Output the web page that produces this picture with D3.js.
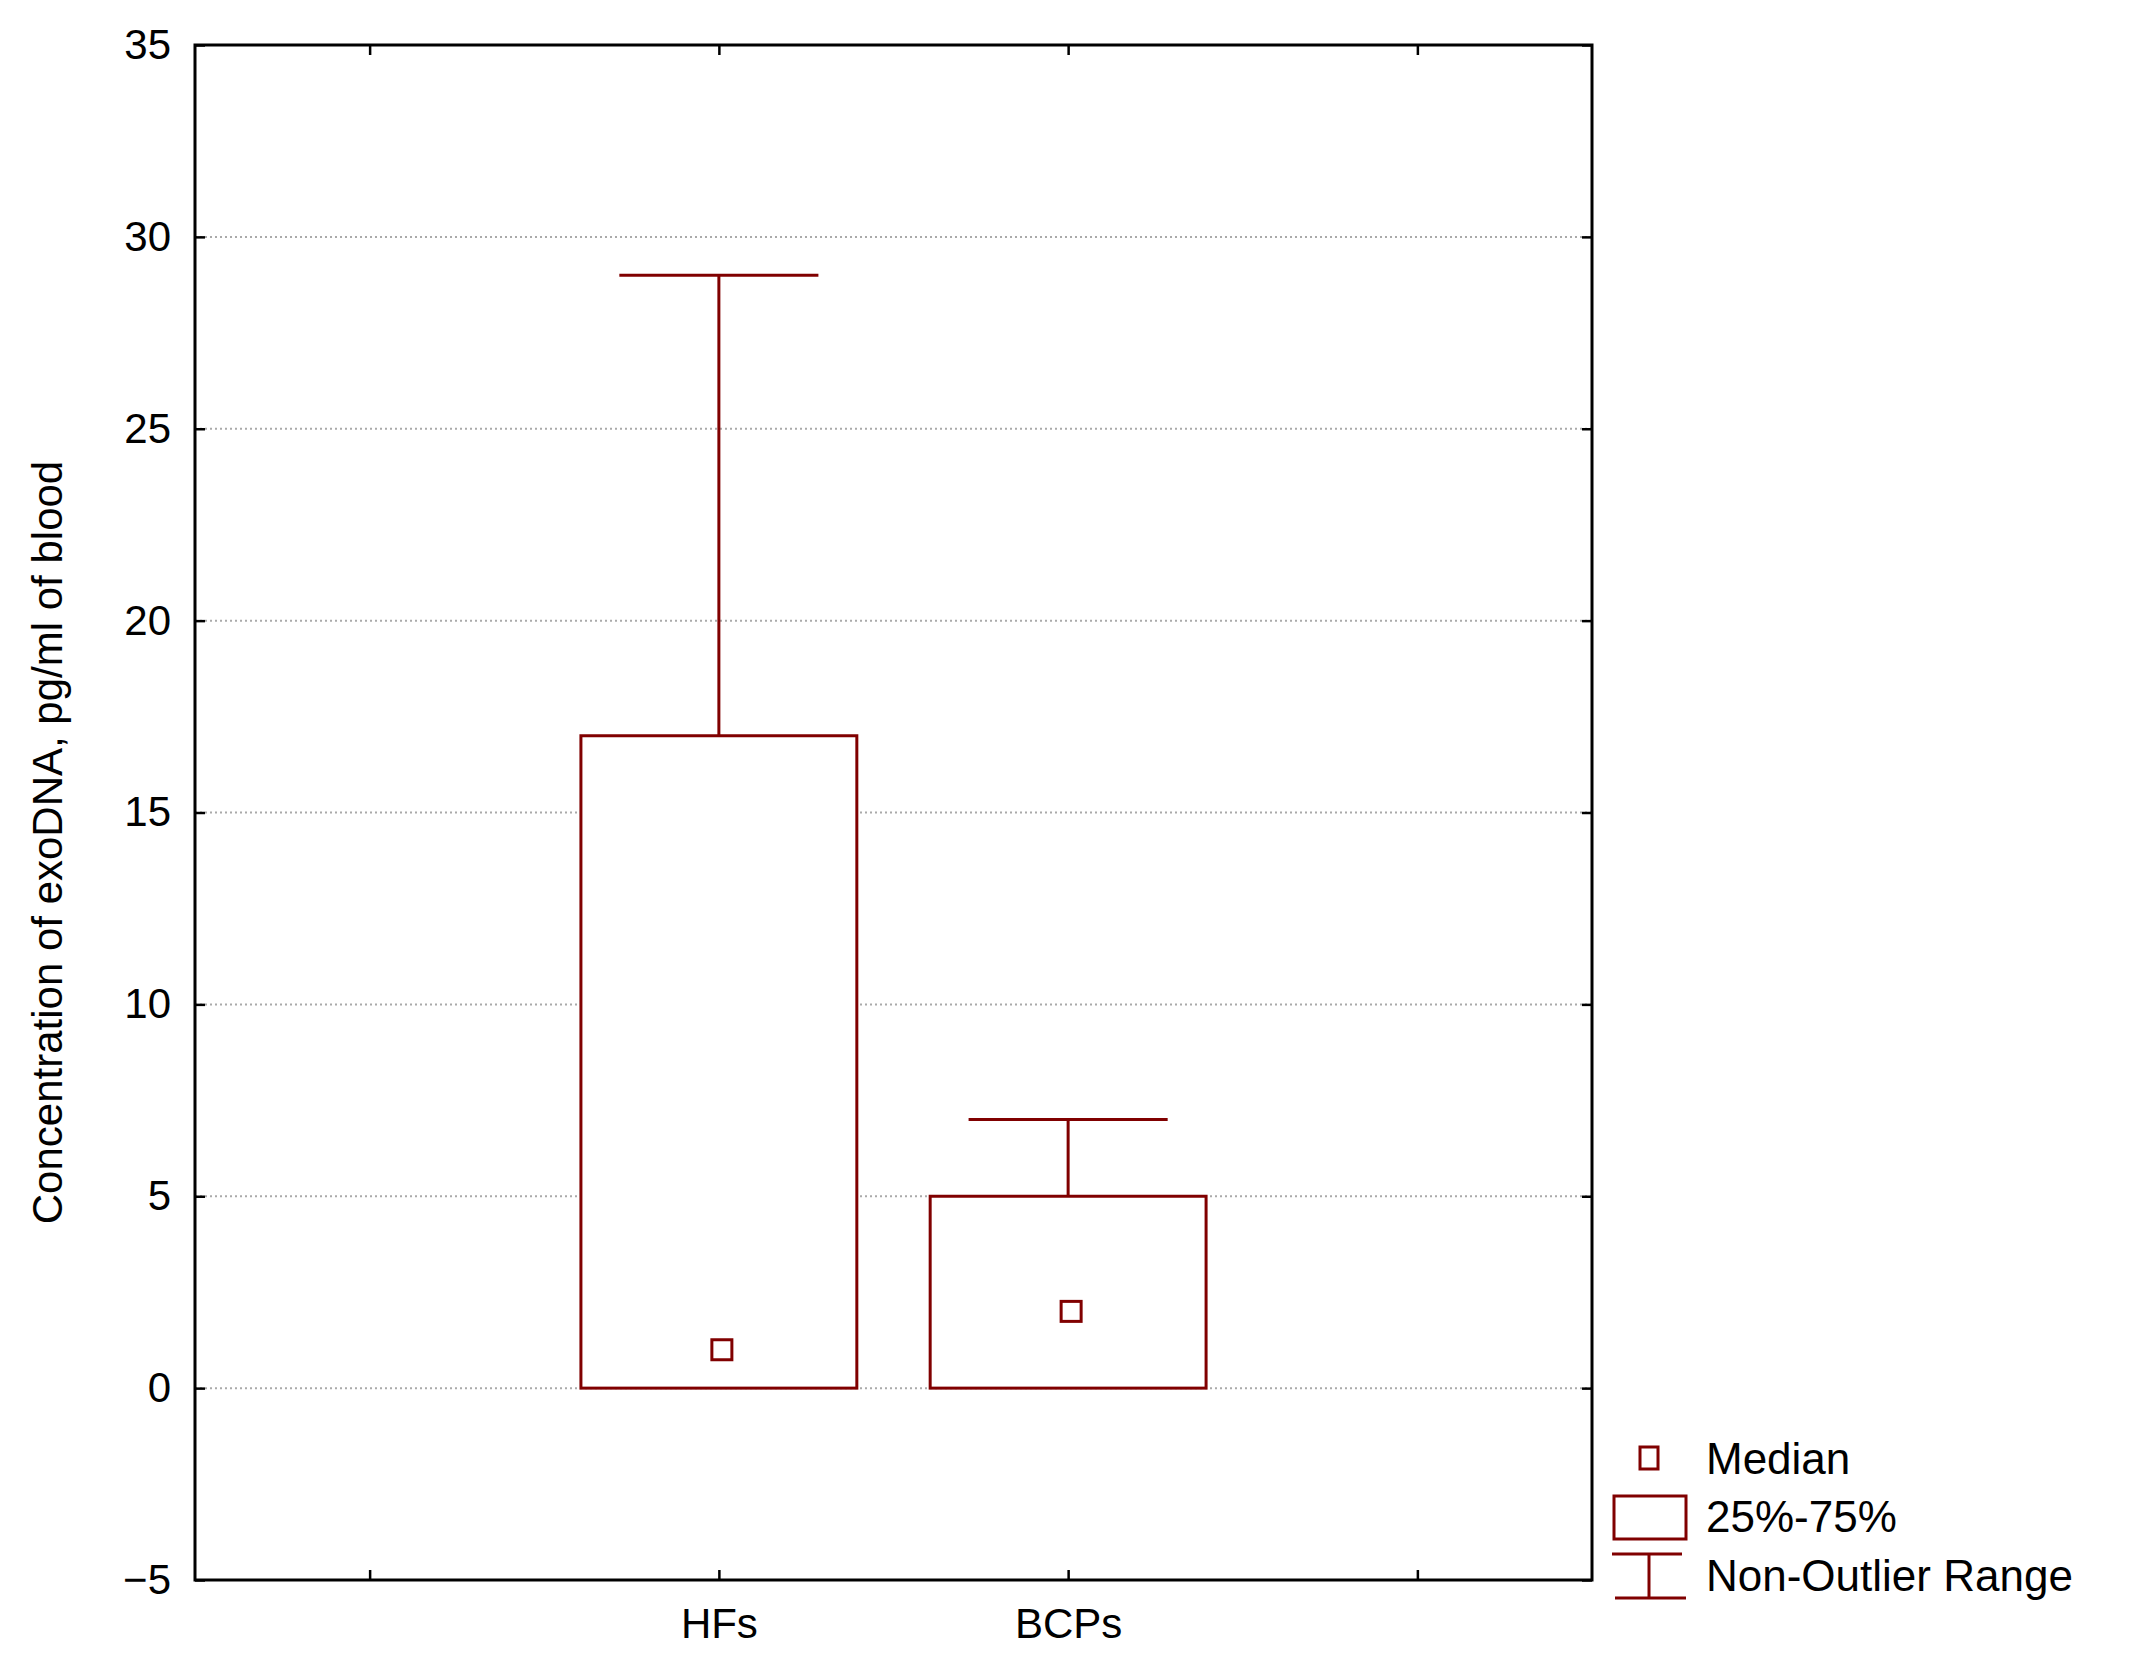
<!DOCTYPE html>
<html><head><meta charset="utf-8">
<script src="https://cdn.jsdelivr.net/npm/d3@7"></script>
<style>body{margin:0;background:#fff}text{font-family:"Liberation Sans",Arial,sans-serif;fill:#000}</style>
</head><body><svg id="c" width="2135" height="1673"></svg>
<script>
const slots = ["", "HFs", "BCPs", " "];
const categories = ["HFs", "BCPs"];
const q1 = [0, 0];
const q3 = [17, 5];
const medians = [1, 2];
const whiskerMin = [0, 0];
const whiskerMax = [29, 7];
const yTicks = [-5, 0, 5, 10, 15, 20, 25, 30, 35];
const legendLabels = ["Median", "25%-75%", "Non-Outlier Range"];

const col = "#800000";
const L = 195, R = 1592, T = 45, B = 1580;
const svg = d3.select("#c");
const x = d3.scalePoint().domain(slots).range([L, R]).padding(0.5);
const y = d3.scaleLinear().domain([-5, 35]).range([B, T]);
const step = x.step();

// grid
svg.append("g").selectAll("line").data(yTicks.filter(v => v > -5 && v < 35)).join("line")
  .attr("x1", L).attr("x2", R).attr("y1", d => y(d)).attr("y2", d => y(d))
  .attr("stroke", "#aaa").attr("stroke-width", 2).attr("stroke-dasharray", "2,3");

// axes
svg.append("g").attr("transform", `translate(${L},0)`)
  .call(d3.axisLeft(y).tickValues(yTicks).tickSize(-10).tickPadding(24))
  .call(g => g.select(".domain").remove())
  .call(g => g.selectAll("line").attr("stroke-width", 2.5))
  .call(g => g.selectAll("text").attr("font-size", 42));
svg.append("g").attr("transform", `translate(${R},0)`)
  .call(d3.axisRight(y).tickValues(yTicks).tickSize(-10).tickFormat(""))
  .call(g => g.select(".domain").remove())
  .call(g => g.selectAll("line").attr("stroke-width", 2.5));
svg.append("g").attr("transform", `translate(0,${B})`)
  .call(d3.axisBottom(x).tickSize(-10).tickPadding(28))
  .call(g => g.select(".domain").remove())
  .call(g => g.selectAll("line").attr("stroke-width", 2.5))
  .call(g => g.selectAll("text").attr("font-size", 42));
svg.append("g").attr("transform", `translate(0,${T})`)
  .call(d3.axisTop(x).tickSize(-10).tickFormat(""))
  .call(g => g.select(".domain").remove())
  .call(g => g.selectAll("line").attr("stroke-width", 2.5));
svg.append("rect").attr("x", L).attr("y", T).attr("width", R - L).attr("height", B - T)
  .attr("fill", "none").attr("stroke", "#000").attr("stroke-width", 3);

svg.append("text").attr("transform", `translate(62,${(T + B) / 2 + 30}) rotate(-90)`)
  .attr("text-anchor", "middle").attr("font-size", 42)
  .text("Concentration of exoDNA, pg/ml of blood");

// boxes
const bw = step * 0.79, cw = step * 0.57;
const g = svg.append("g").attr("stroke", col).attr("stroke-width", 3).attr("fill", "none");
categories.forEach((c, i) => {
  const cx = x(c);
  g.append("line").attr("x1", cx).attr("x2", cx).attr("y1", y(q3[i])).attr("y2", y(whiskerMax[i]));
  g.append("line").attr("x1", cx - cw / 2).attr("x2", cx + cw / 2).attr("y1", y(whiskerMax[i])).attr("y2", y(whiskerMax[i]));
  g.append("line").attr("x1", cx).attr("x2", cx).attr("y1", y(q1[i])).attr("y2", y(whiskerMin[i]));
  g.append("rect").attr("x", cx - bw / 2).attr("width", bw).attr("y", y(q3[i])).attr("height", y(q1[i]) - y(q3[i])).attr("fill", "#fff");
  g.append("rect").attr("x", cx - 10 + 3).attr("y", y(medians[i]) - 10).attr("width", 20).attr("height", 20).attr("fill", "#fff");
});

// legend
const lg = svg.append("g").attr("stroke", col).attr("stroke-width", 3).attr("fill", "none");
lg.append("rect").attr("x", 1640).attr("y", 1447).attr("width", 18).attr("height", 22);
lg.append("rect").attr("x", 1614).attr("y", 1496).attr("width", 72).attr("height", 43);
lg.append("line").attr("x1", 1612).attr("x2", 1682).attr("y1", 1554).attr("y2", 1554);
lg.append("line").attr("x1", 1649).attr("x2", 1649).attr("y1", 1554).attr("y2", 1598);
lg.append("line").attr("x1", 1615).attr("x2", 1686).attr("y1", 1598).attr("y2", 1598);
const ly = [1474, 1532, 1591];
svg.append("g").selectAll("text").data(legendLabels).join("text")
  .attr("x", 1706).attr("y", (d, i) => ly[i]).attr("font-size", 44).text(d => d);
</script></body></html>
